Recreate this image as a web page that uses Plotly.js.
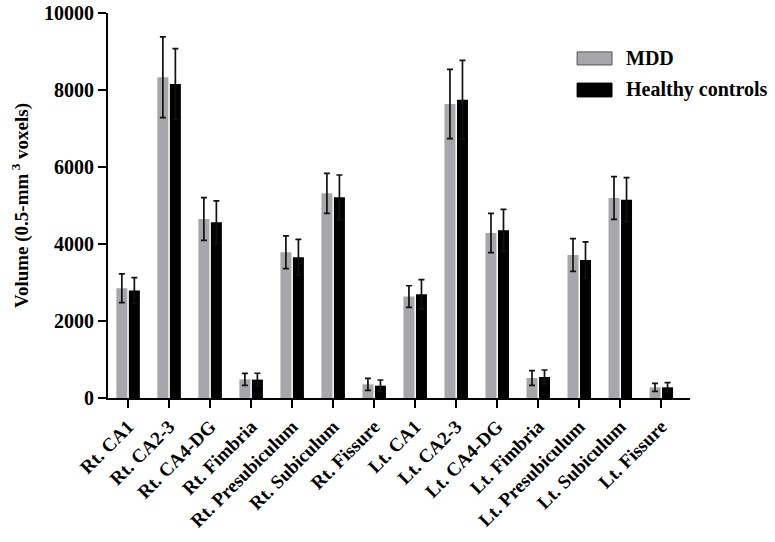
<!DOCTYPE html>
<html><head><meta charset="utf-8">
<script src="https://cdn.plot.ly/plotly-3.0.1.min.js"></script>
<style>html,body{margin:0;padding:0;background:#fff}#chart{width:775px;height:542px}</style>
</head><body><div id="chart"></div>
<script>
const categories = ["Rt. CA1","Rt. CA2-3","Rt. CA4-DG","Rt. Fimbria","Rt. Presubiculum","Rt. Subiculum","Rt. Fissure",
  "Lt. CA1","Lt. CA2-3","Lt. CA4-DG","Lt. Fimbria","Lt. Presubiculum","Lt. Subiculum","Lt. Fissure"];
const mddMean = [2850, 8330, 4650, 485, 3785, 5315, 355, 2635, 7635, 4285, 520, 3715, 5195, 277];
const mddSD   = [375, 1050, 555, 155, 425, 520, 156, 280, 900, 511, 190, 425, 554, 104];
const hcMean  = [2790, 8155, 4565, 478, 3655, 5212, 320, 2693, 7750, 4355, 545, 3585, 5152, 277];
const hcSD    = [335, 920, 555, 165, 467, 580, 147, 380, 1020, 545, 182, 468, 571, 121];
const yTicks  = [0, 2000, 4000, 6000, 8000, 10000];
const seriesNames = ["MDD", "Healthy controls"];
const seriesColors = ["#a7a7ab", "#000000"];

const serif = "Liberation Serif, Times New Roman, serif";
const traces = [
  {type:"bar", name:seriesNames[0], x:categories, y:mddMean, showlegend:false,
   marker:{color:seriesColors[0], line:{width:0}},
   error_y:{type:"data", array:mddSD, visible:true, color:"#111", thickness:1.7, width:3}},
  {type:"bar", name:seriesNames[1], x:categories, y:hcMean, showlegend:false,
   marker:{color:seriesColors[1], line:{width:0}},
   error_y:{type:"data", array:hcSD, visible:true, color:"#111", thickness:1.7, width:3}}
];
// custom legend (wide swatches like the reference)
const legY = [[0.899, 0.865], [0.818, 0.782]];
const shapes = seriesNames.map((n, i) => ({
  type:"rect", xref:"paper", yref:"paper", x0:0.806, x1:0.866, y0:legY[i][1], y1:legY[i][0],
  fillcolor:seriesColors[i], line:{color:i === 0 ? "#555" : "#000", width:1}
}));
const annotations = seriesNames.map((n, i) => ({
  xref:"paper", yref:"paper", x:0.886, y:(legY[i][0] + legY[i][1]) / 2, xanchor:"left", yanchor:"middle",
  text:n, showarrow:false, font:{family:serif, size:20, weight:"bold", color:"#000"}
}));
const layout = {
  width:775, height:542,
  margin:{l:108, r:85, t:13, b:144},
  paper_bgcolor:"#fff", plot_bgcolor:"#fff",
  font:{family:serif, color:"#000", size:18, weight:"bold"},
  barmode:"group", bargap:0.39, bargroupgap:0.12,
  showlegend:false,
  shapes:shapes, annotations:annotations,
  xaxis:{type:"category", range:[-0.49, 13.7], showline:true, linecolor:"#000", linewidth:2, automargin:false,
         ticks:"outside", ticklen:8, tickwidth:2, tickcolor:"#000", tickangle:-45,
         tickfont:{family:serif, size:19, weight:"bold", color:"#000"}, showgrid:false, zeroline:false},
  yaxis:{range:[0,10000], tickvals:yTicks, ticktext:yTicks.map(String), showline:true, linecolor:"#000", linewidth:2,
         ticks:"outside", ticklen:8, tickwidth:2, tickcolor:"#000", showgrid:false, zeroline:false, automargin:false,
         tickfont:{family:serif, size:20, weight:"bold", color:"#000"},
         title:{text:"Volume (0.5-mm<sup> 3</sup> voxels)", standoff:10,
                font:{family:serif, size:19, weight:"bold", color:"#000"}}}
};
Plotly.newPlot("chart", traces, layout, {displayModeBar:false, staticPlot:true});
</script></body></html>
